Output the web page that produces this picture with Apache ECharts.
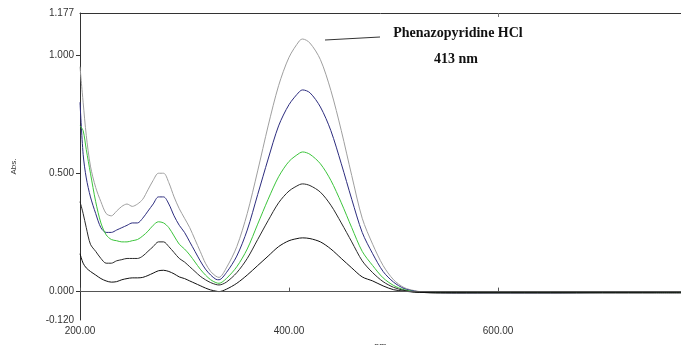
<!DOCTYPE html>
<html><head><meta charset="utf-8">
<script src="https://cdn.jsdelivr.net/npm/echarts@6/dist/echarts.min.js"></script>
<style>html,body{margin:0;padding:0;background:#fff}#c{width:681px;height:345px}</style>
</head><body><div id="c"></div>
<script>
const wavelengths = [200,203,206,210,215,220,225,230,235,240,245,250,255,260,265,270,275,280,285,290,295,300,305,310,315,320,325,330,333,340,350,360,370,380,390,400,410,413,420,430,440,450,460,470,480,490,500,510,520,530,540,560,600,650,700,750,775];
const absGray  = [0.95,0.80,0.66,0.53,0.44,0.38,0.33,0.32,0.34,0.36,0.37,0.36,0.37,0.39,0.43,0.47,0.50,0.50,0.46,0.40,0.35,0.31,0.27,0.22,0.17,0.12,0.085,0.065,0.06,0.10,0.19,0.33,0.51,0.70,0.87,0.99,1.06,1.067,1.05,0.98,0.85,0.68,0.49,0.31,0.20,0.11,0.05,0.017,0.004,-0.003,-0.005,-0.006,-0.005,-0.005,-0.004,-0.004,-0.004];
const absNavy  = [0.80,0.58,0.48,0.40,0.33,0.27,0.25,0.25,0.26,0.27,0.28,0.29,0.29,0.31,0.34,0.37,0.40,0.40,0.37,0.32,0.28,0.25,0.21,0.17,0.13,0.095,0.07,0.052,0.05,0.08,0.15,0.26,0.41,0.56,0.70,0.79,0.845,0.852,0.84,0.78,0.68,0.54,0.39,0.25,0.16,0.085,0.04,0.013,0.002,-0.003,-0.004,-0.005,-0.005,-0.005,-0.004,-0.004,-0.004];
const absGreen = [0.70,0.68,0.60,0.50,0.38,0.29,0.24,0.22,0.215,0.21,0.21,0.215,0.22,0.235,0.255,0.28,0.295,0.29,0.27,0.235,0.20,0.18,0.155,0.125,0.095,0.07,0.05,0.038,0.035,0.055,0.105,0.18,0.285,0.39,0.485,0.55,0.585,0.59,0.58,0.54,0.47,0.375,0.27,0.17,0.11,0.058,0.026,0.008,0.0,-0.002,-0.003,-0.003,-0.003,-0.003,-0.003,-0.003,-0.003];
const absDark  = [0.38,0.33,0.27,0.20,0.17,0.14,0.12,0.12,0.13,0.135,0.14,0.14,0.14,0.15,0.17,0.19,0.21,0.21,0.19,0.165,0.14,0.125,0.105,0.085,0.065,0.05,0.038,0.03,0.028,0.04,0.08,0.14,0.22,0.30,0.375,0.425,0.452,0.455,0.448,0.42,0.365,0.29,0.21,0.13,0.08,0.042,0.018,0.005,-0.002,-0.004,-0.005,-0.005,-0.005,-0.005,-0.005,-0.005,-0.005];
const absBlack = [0.16,0.12,0.10,0.085,0.07,0.055,0.045,0.04,0.042,0.05,0.055,0.058,0.058,0.06,0.068,0.078,0.088,0.09,0.085,0.075,0.062,0.055,0.045,0.035,0.025,0.015,0.007,0.002,0.0,0.01,0.035,0.07,0.11,0.15,0.19,0.215,0.226,0.227,0.224,0.21,0.18,0.14,0.10,0.062,0.045,0.024,0.008,0.002,-0.002,-0.004,-0.005,-0.005,-0.005,-0.005,-0.005,-0.005,-0.005];
const yTickValues = [-0.12, 0, 0.5, 1.0, 1.177];
const xTickValues = [200, 400, 600];

function pairs(ys){ return wavelengths.map((x,i)=>[x, ys[i]]); }
const seriesDefs = [
  {name:'s1', data:absGray,  color:'#9f9f9f'},
  {name:'s2', data:absNavy,  color:'#2c2c7e'},
  {name:'s3', data:absGreen, color:'#3cc43c'},
  {name:'s4', data:absDark,  color:'#2a2a2a'},
  {name:'s5', data:absBlack, color:'#111111'}
];
const chart = echarts.init(document.getElementById('c'), null, {renderer:'canvas'});
const labelFont = {fontFamily:'Liberation Sans, Arial, sans-serif', fontSize:10, color:'#333'};
const series = seriesDefs.map(s=>({
  name:s.name, type:'line', data:pairs(s.data), smooth:0.3, showSymbol:false,
  lineStyle:{color:s.color, width:1}, itemStyle:{color:s.color}, z:3, animation:false
}));
series[0].markLine = {
  silent:true, symbol:'none', animation:false,
  lineStyle:{color:'#555', width:1, type:'solid'}, label:{show:false},
  data:[{yAxis:0}]
};
chart.setOption({
  animation:false,
  grid:{left:80, right:0, top:13, bottom:25, outerBoundsMode:'none', containLabel:false},
  xAxis:[{
    type:'value', min:200, max:775, position:'bottom',
    name:'nm', nameLocation:'middle', nameGap:22,
    nameTextStyle:{fontFamily:'Liberation Sans, Arial, sans-serif', fontSize:9, color:'#333'},
    axisLine:{show:true, lineStyle:{color:'#555', width:1}},
    axisTick:{show:true, inside:true, length:4, customValues:xTickValues, lineStyle:{color:'#555'}},
    axisLabel:Object.assign({customValues:xTickValues, formatter:v=>v.toFixed(2), margin:6}, labelFont),
    splitLine:{show:false}
  },{
    type:'value', min:200, max:775, position:'top',
    axisLine:{show:true, lineStyle:{color:'#333', width:1}},
    axisTick:{show:true, inside:true, length:4, customValues:[600], lineStyle:{color:'#777'}},
    axisLabel:{show:false}, splitLine:{show:false}
  }],
  yAxis:{
    type:'value', min:-0.12, max:1.177,
    name:'Abs.', nameLocation:'middle', nameGap:62, nameRotate:90,
    nameTextStyle:{fontFamily:'Liberation Sans, Arial, sans-serif', fontSize:8, color:'#333'},
    axisLine:{show:true, lineStyle:{color:'#333', width:1}},
    axisTick:{show:true, length:4, customValues:[0,0.5,1.0], lineStyle:{color:'#333'}},
    axisLabel:Object.assign({customValues:yTickValues, formatter:v=>v.toFixed(3), margin:6}, labelFont),
    splitLine:{show:false}
  },
  series:series,
  graphic:[
    {type:'line', shape:{x1:325, y1:40, x2:380, y2:37}, style:{stroke:'#333', lineWidth:1}},
    {type:'text', x:458, y:33, style:{text:'Phenazopyridine HCl', font:'bold 14px "Liberation Serif", "Times New Roman", serif', fill:'#111', textAlign:'center', textVerticalAlign:'middle'}},
    {type:'text', x:456, y:59, style:{text:'413 nm', font:'bold 14px "Liberation Serif", "Times New Roman", serif', fill:'#111', textAlign:'center', textVerticalAlign:'middle'}}
  ]
});
</script></body></html>
